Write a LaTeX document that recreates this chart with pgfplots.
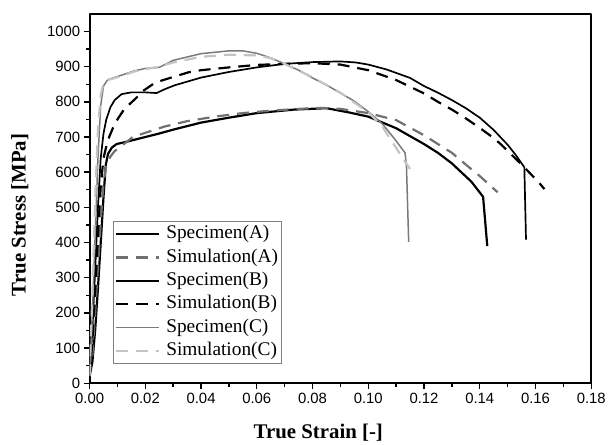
\documentclass[border=0pt]{standalone}
\usepackage{fontspec}
\setmainfont{Liberation Serif}
\newfontfamily\arial{Liberation Sans}
\usepackage{pgfplots}
\pgfplotsset{compat=1.18}
\definecolor{specC}{HTML}{7A7A7A}
\definecolor{simA}{HTML}{707070}
\definecolor{simC}{HTML}{C4C4C4}
\begin{document}
\begin{tikzpicture}
\begin{axis}[
    name=ax,
    scale only axis,
    width=504bp, height=371bp,
    xmin=0, xmax=0.18, ymin=0, ymax=1050,
    xtick={0,0.02,...,0.18}, ytick={0,100,...,1000},
    minor x tick num=1, minor y tick num=1,
    axis x line*=box, axis y line*=box,
    xtick pos=bottom, ytick pos=left,
    tick align=outside,
    major tick length=6bp, minor tick length=3.5bp,
    every tick/.style={black, line width=1.4bp},
    axis line style={line width=2bp},
    xticklabel style={/pgf/number format/fixed, /pgf/number format/fixed zerofill, /pgf/number format/precision=2},
    /pgf/number format/1000 sep={},
    /pgf/number format/assume math mode=true,
    ticklabel style={font=\arial\fontsize{15}{16}\selectfont},
    scaled x ticks=false,
    xlabel={True Strain [-]}, ylabel={True Stress [MPa]},
    label style={font=\bfseries\fontsize{21}{23}\selectfont},
    x label style={at={(axis description cs:0.456,-0.135)}, anchor=center},
    y label style={at={(axis description cs:-0.139,0.4555)}, anchor=center, rotate=0},
    legend style={at={(axis description cs:0.0476,0.4394)}, anchor=north west,
        draw=gray, line width=0.8bp, inner sep=1bp,
        font=\fontsize{19.5}{21}\selectfont,
        nodes={inner sep=2.5bp, text height=14bp, text depth=4.5bp}},
    legend cell align=left,
    legend image code/.code={\draw[#1] (0bp,0bp) -- (43bp,0bp); \path (47bp,0bp);},
    line join=round,
]
\addplot[black, line width=2.2bp] coordinates {
 (0,20)(0.001,60)(0.002,150)(0.003,270)(0.004,400)(0.005,530)(0.0058,620)
 (0.0066,652)(0.008,670)(0.0097,680)(0.013,686)(0.02,700)(0.025,710)(0.0305,722)
 (0.04,741)(0.05,755)(0.06,768)(0.0734,778)(0.085,782)(0.093,770)(0.10,758)
 (0.11,725)(0.12,680)(0.125,655)(0.13,625)(0.137,573)(0.1412,530)(0.1427,390)
};\addlegendentry{Specimen(A)}
\addplot[simA, line width=2.2bp, dash pattern=on 12bp off 8bp] coordinates {
 (0,20)(0.001,80)(0.002,200)(0.003,330)(0.004,460)(0.005,570)(0.006,620)
 (0.0075,645)(0.009,660)(0.012,678)(0.0155,700)(0.02,712)(0.027,730)(0.035,745)
 (0.045,758)(0.055,768)(0.065,775)(0.075,780)(0.083,783)(0.09,780)(0.10,768)
 (0.11,748)(0.12,705)(0.13,655)(0.1357,617)(0.14,589)(0.1464,543)
};\addlegendentry{Simulation(A)}
\addplot[black, line width=1.7bp] coordinates {
 (0,20)(0.001,150)(0.002,320)(0.003,500)(0.004,640)(0.005,710)(0.006,750)
 (0.0075,785)(0.009,805)(0.0115,822)(0.015,827)(0.02,827)(0.024,825)(0.027,836)
 (0.0305,847)(0.04,869)(0.05,885)(0.06,898)(0.07,908)(0.08,913)(0.09,915)
 (0.0955,912)(0.10,906)(0.1066,892)(0.115,868)(0.12,845)(0.125,826)(0.13,805)
 (0.135,782)(0.14,755)(0.145,720)(0.15,678)(0.153,648)(0.156,614)(0.1566,408)
};\addlegendentry{Specimen(B)}
\addplot[black, line width=2.2bp, dash pattern=on 12bp off 8bp] coordinates {
 (0,20)(0.001,120)(0.002,260)(0.003,420)(0.004,560)(0.005,640)(0.0065,690)
 (0.0085,728)(0.01,750)(0.0125,780)(0.0166,810)(0.019,830)(0.0236,855)(0.0297,870)
 (0.0355,884)(0.04,890)(0.05,898)(0.06,905)(0.07,908)(0.08,910)(0.09,906)
 (0.10,890)(0.11,862)(0.12,824)(0.125,800)(0.13,778)(0.135,753)(0.14,726)
 (0.145,697)(0.1475,680)(0.155,622)(0.1614,569)(0.1632,552)
};\addlegendentry{Simulation(B)}
\addplot[specC, line width=1.5bp] coordinates {
 (0,20)(0.001,200)(0.002,420)(0.003,640)(0.004,790)(0.005,845)(0.0065,863)
 (0.01,872)(0.016,888)(0.02,895)(0.025,898)(0.03,918)(0.04,937)(0.05,945)
 (0.055,945)(0.06,938)(0.065,925)(0.07,908)(0.075,890)(0.08,868)(0.085,848)
 (0.09,825)(0.095,802)(0.10,772)(0.105,738)(0.1095,694)(0.1132,655)(0.1137,618)
 (0.1145,402)
};\addlegendentry{Specimen(C)}
\addplot[simC, line width=2.2bp, dash pattern=on 12bp off 8bp] coordinates {
 (0,20)(0.001,250)(0.002,520)(0.003,720)(0.004,820)(0.005,852)(0.0065,862)
 (0.01,870)(0.016,886)(0.02,893)(0.025,900)(0.03,912)(0.04,928)(0.05,934)
 (0.06,932)(0.065,924)(0.07,908)(0.08,870)(0.09,826)(0.10,770)(0.105,730)
 (0.1096,674)(0.113,632)(0.115,609)
};\addlegendentry{Simulation(C)}
\end{axis}
\path ([xshift=-90bp,yshift=-61bp]ax.south west) rectangle ([xshift=15bp,yshift=14bp]ax.north east);
\end{tikzpicture}
\end{document}
